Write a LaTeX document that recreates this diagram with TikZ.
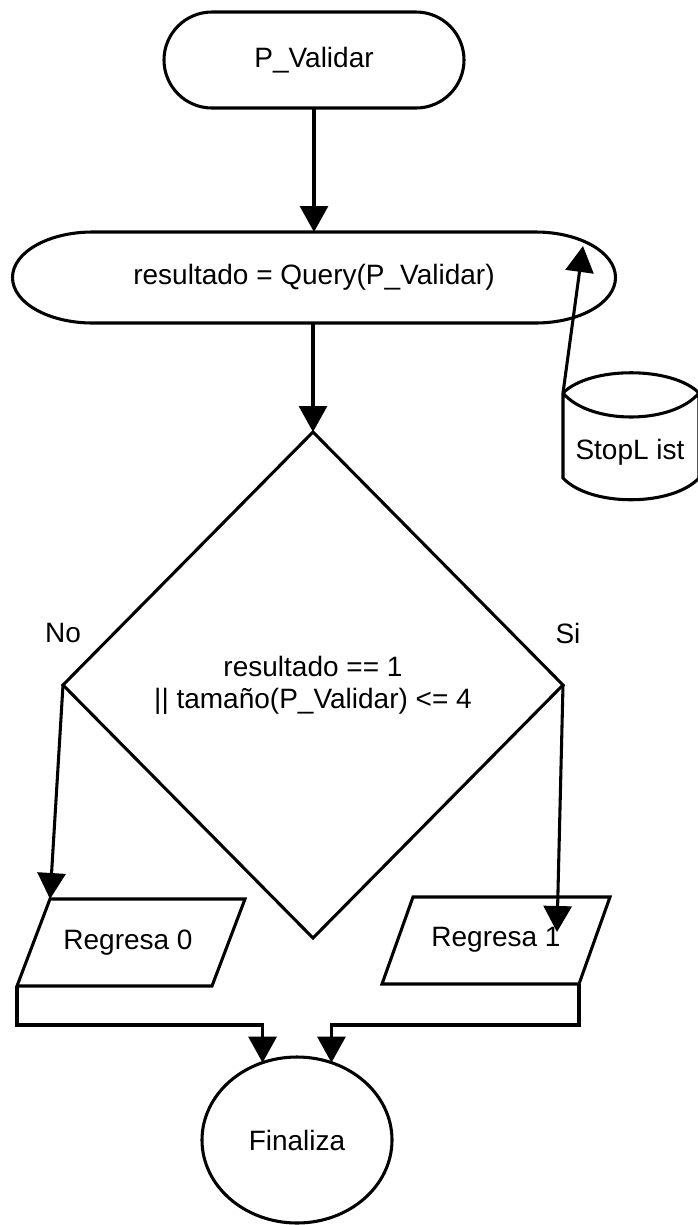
\documentclass[tikz,border=0pt]{standalone}
\usepackage{fontspec}
\setmainfont{Liberation Sans}
\usetikzlibrary{arrows.meta,shapes.geometric,calc}
\begin{document}
\begin{tikzpicture}[x=0.75pt,y=-0.75pt,
  line width=2.3pt,
  every node/.style={font=\fontsize{21}{24}\selectfont, inner sep=0pt, outer sep=0pt},
  arr/.style={-{Triangle[length=19.5pt,width=21pt]}},
  terminal/.style={draw, rounded corners=36pt, minimum width=225pt, minimum height=72pt},
  decision/.style={diamond, draw, align=center, minimum width=375pt, minimum height=379.5pt},
  endcircle/.style={ellipse, draw, minimum width=142.5pt, minimum height=124.5pt},
  tag/.style={}
]
\useasboundingbox (0,0) rectangle (697,1225);
\fill[white] (0,0) rectangle (697,1225);

% start terminal
\node[terminal] (start) at (314,60) {P\_Validar};

% query step: oval with flat top and bottom
\node[minimum width=452.25pt, minimum height=68.25pt] (query) at (314,277.5) {resultado = Query(P\_Validar)};
\draw ($(query.north west)+(80,0)$) -- ($(query.north east)+(-80,0)$)
  arc[start angle=90, end angle=-90, x radius=60pt, y radius=34.125pt]
  -- ($(query.south west)+(80,0)$)
  arc[start angle=270, end angle=90, x radius=60pt, y radius=34.125pt] -- cycle;

% stop list store
\node (stop) at (630,452) {StopL ist};
\coordinate (stoptop) at (563,393);
\coordinate (qin) at (583,246);
\draw (563,393) .. controls (590,366) and (672,366) .. (699,393)
      (563,393) .. controls (590,425) and (672,425) .. (699,393)
      (563,393) -- (563,478) .. controls (590,507) and (672,507) .. (699,478) -- (699,393);

% decision
\node[decision] (dec) at (313,685) {resultado == 1\\|| tamaño(P\_Validar) <= 4};
\node[tag] (no) at (63,633) {No};
\node[tag] (si) at (568,633) {Si};

% outputs
\node (r0) at (128,943) {Regresa 0};
\coordinate (r0tl) at (50,899);
\coordinate (r0bl) at (17,986);
\draw (50,899) -- (245,899) -- (212,986) -- (17,986) -- cycle;

\node (r1) at (496,940) {Regresa 1};
\coordinate (r1in) at (557,932);
\coordinate (r1br) at (579,984);
\draw (413,897) -- (610,897) -- (579,984) -- (382,984) -- cycle;

% end
\node[endcircle] (fin) at (297,1140) {Finaliza};
\coordinate (lvl) at (0,1025);

% connectors
\draw[arr] (start.south) -- (start.south |- query.north);
\draw[arr] (query.south -| dec.north) -- (dec.north);
\draw[arr] (stoptop) -- (qin);
\draw[arr] (dec.west) -- (r0tl);
\draw[arr] (dec.east) -- (r1in);
\draw[arr] (r0bl) -- (r0bl |- lvl) -| (fin.114);
\draw[arr] (r1br) -- (r1br |- lvl) -| (fin.66);
\end{tikzpicture}
\end{document}
